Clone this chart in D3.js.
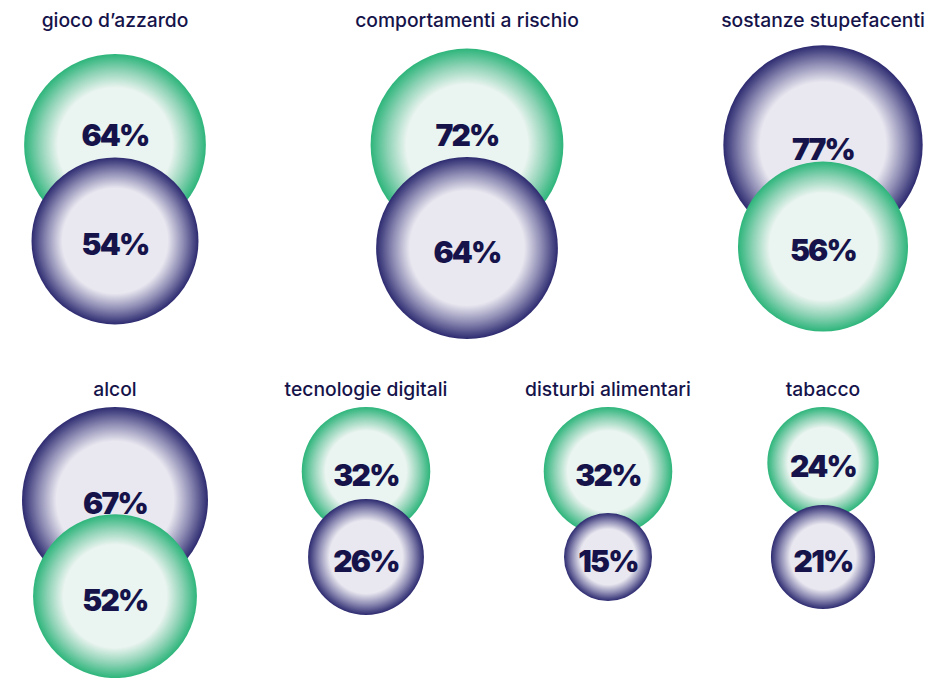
<!DOCTYPE html>
<html>
<head>
<meta charset="utf-8">
<script src="https://cdn.jsdelivr.net/npm/d3@7"></script>
<style>
  html, body { margin: 0; padding: 0; background: #ffffff; }
  svg { display: block; }
</style>
</head>
<body>
<svg id="chart" width="933" height="678"></svg>
<script>
// ---- data ----
const categories = ["gioco d’azzardo", "comportamenti a rischio", "sostanze stupefacenti",
                    "alcol", "tecnologie digitali", "disturbi alimentari", "tabacco"];
const greenValues = [64, 72, 56, 52, 32, 32, 24];
const navyValues  = [54, 64, 77, 67, 26, 15, 21];
const seriesNames = ["green", "navy"];

// ---- layout (not data) ----
const rowOf = [0, 0, 0, 1, 1, 1, 1];
const panelX = [115, 467, 823, 115, 366, 608, 823];
const rows = [
  { titleY: 27,  anchor: 145, align: "center" },
  { titleY: 396, anchor: 407, align: "top" }
];
const textColor = "#15134a";
const palette = {
  green: { edge: "#2db57b", mid: "#8fd3b6", pale: "#eaf4f0" },
  navy:  { edge: "#2d2b70", mid: "#8d8bb3", pale: "#e9e8f0" }
};

const svg = d3.select("#chart");
const defs = svg.append("defs");
seriesNames.forEach(s => {
  const g = defs.append("radialGradient").attr("id", "grad-" + s)
    .attr("cx", "50%").attr("cy", "50%").attr("r", "50%");
  g.append("stop").attr("offset", "0%").attr("stop-color", palette[s].pale);
  g.append("stop").attr("offset", "63%").attr("stop-color", palette[s].pale);
  g.append("stop").attr("offset", "82%").attr("stop-color", palette[s].mid);
  g.append("stop").attr("offset", "100%").attr("stop-color", palette[s].edge);
});

const r = d3.scaleSqrt().domain([0, 100]).range([0, 113.6]);

categories.forEach((cat, i) => {
  const row = rows[rowOf[i]];
  const cx = panelX[i];
  const items = [
    { s: "green", v: greenValues[i] },
    { s: "navy",  v: navyValues[i] }
  ].sort((a, b) => b.v - a.v);
  const top = items[0], bot = items[1];
  top.r = r(top.v); bot.r = r(bot.v);
  top.cy = row.align === "center" ? row.anchor : row.anchor + top.r;
  const topEdge = top.cy - top.r;
  bot.cy = Math.max(top.cy + 0.55 * (top.r + bot.r), topEdge + 150);
  const botTop = bot.cy - bot.r;
  top.ty = (botTop < top.cy + 13) ? top.cy + 1 : top.cy + 14.5;
  bot.ty = bot.cy + 14.5;

  const g = svg.append("g");
  g.append("text")
    .attr("x", cx).attr("y", row.titleY)
    .attr("text-anchor", "middle")
    .attr("font-family", "Inter, 'Noto Sans', sans-serif")
    .attr("font-size", 19.3).attr("font-weight", 500)
    .attr("fill", textColor)
    .text(cat);

  [top, bot].forEach(d => {
    g.append("circle")
      .attr("cx", cx).attr("cy", d.cy).attr("r", d.r)
      .attr("fill", `url(#grad-${d.s})`);
  });
  [top, bot].forEach(d => {
    g.append("text")
      .attr("x", cx).attr("y", d.ty)
      .attr("text-anchor", "middle")
      .attr("font-family", "Inter, 'Noto Sans', sans-serif")
      .attr("font-size", 30).attr("font-weight", 900)
      .attr("letter-spacing", -1.8)
      .attr("fill", textColor)
      .text(d3.format("d")(d.v) + "%");
  });
});
</script>
</body>
</html>
